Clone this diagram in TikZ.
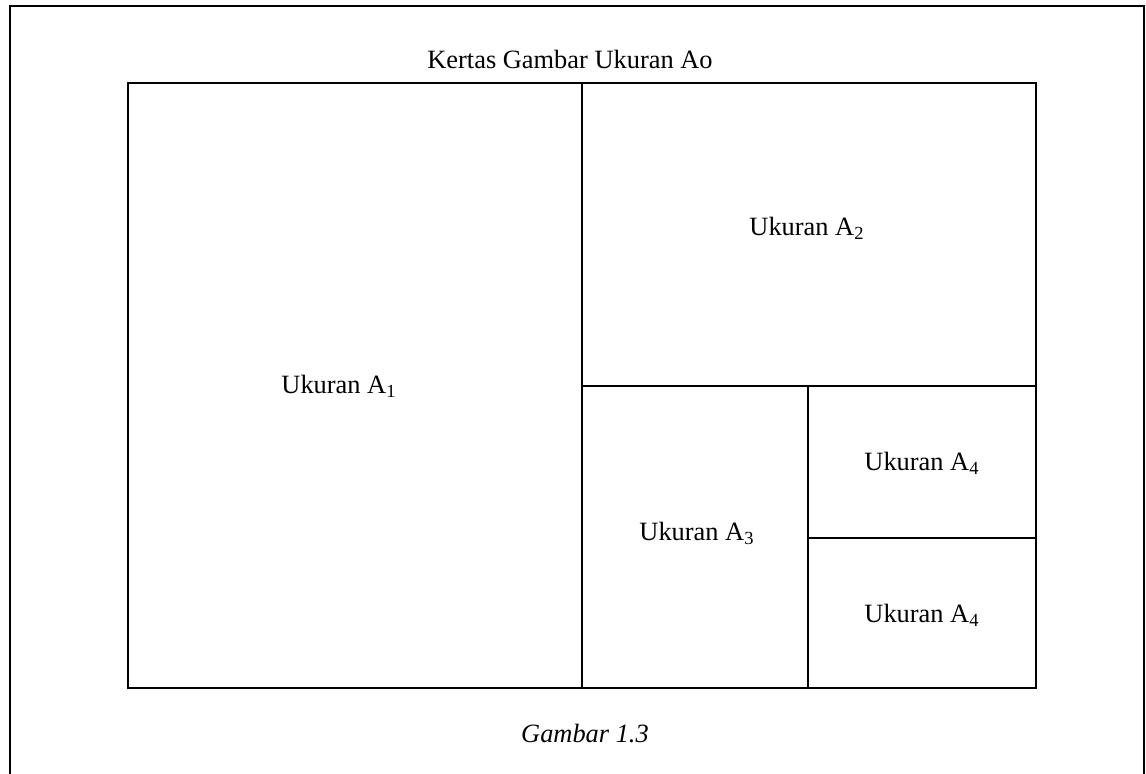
\documentclass[tikz,border=0pt]{standalone}
\usepackage{fontspec}
\setmainfont{Liberation Serif}
\begin{document}
\begin{tikzpicture}[x=0.5pt,y=-0.5pt,
  frameline/.style={line width=1pt, black},
  label/.style={font=\fontsize{13.2}{15}\selectfont, inner sep=0pt, anchor=base}]
\useasboundingbox (0,0) rectangle (1146,774);
% outer page frame, open at the bottom
\draw[frameline] (9.5,780) -- (9.5,6.5) -- (1143.5,6.5) -- (1143.5,780);
% A0 sheet and its subdivisions
\draw[frameline] (127.5,83.5) rectangle (1035.5,688.5);
\draw[frameline] (581.5,83.5) -- (581.5,688.5);
\draw[frameline] (581.5,386) -- (1035.5,386);
\draw[frameline] (808,386) -- (808,688.5);
\draw[frameline] (808,538) -- (1035.5,538);
% labels
\node[label] (title) at (570,69) {Kertas Gambar Ukuran Ao};
\node[label] (a1) at (339,394) {Ukuran A\textsubscript{1}};
\node[label] (a2) at (807,236) {Ukuran A\textsubscript{2}};
\node[label] (a3) at (697,541) {Ukuran A\textsubscript{3}};
\node[label] (a4t) at (922,471) {Ukuran A\textsubscript{4}};
\node[label] (a4b) at (922,623) {Ukuran A\textsubscript{4}};
\node[label] (cap) at (585,742) {\itshape Gambar 1.3};
\end{tikzpicture}
\end{document}
